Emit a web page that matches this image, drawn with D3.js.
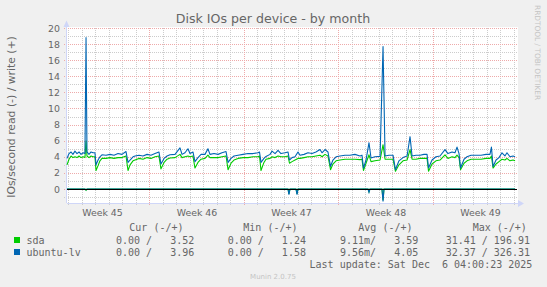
<!DOCTYPE html>
<html>
<head>
<meta charset="utf-8">
<script src="https://cdn.jsdelivr.net/npm/d3@7"></script>
<style>
  body { margin: 0; background: #f0f0f0; }
  svg { display: block; }
  text { fill: #666; }
</style>
</head>
<body>
<svg id="chart" width="547" height="287"></svg>
<script>
// values, time in days since the left edge
const days = [
  0, 0.15, 0.30, 0.44, 0.59, 0.74, 0.89, 1.04, 1.19, 1.33, 1.41, 1.48, 1.63, 1.78, 1.93, 2.07,
  2.15, 2.30, 2.44, 2.59, 2.89, 3.19, 3.48, 3.78, 4.07, 4.37,
  4.52, 4.67, 4.89, 5.04, 5.33, 5.63, 5.93, 6.22, 6.52, 6.81,
  6.96, 7.19, 7.41, 7.63, 8.00, 8.37, 8.52, 8.74, 8.96, 9.11, 9.33,
  9.48, 9.70, 9.93, 10.22, 10.44, 10.59, 10.89, 11.19, 11.48, 11.78,
  11.93, 12.15, 12.37, 12.67, 13.04, 13.41, 13.78, 14.15, 14.26,
  14.37, 14.59, 14.74, 15.04, 15.19, 15.41, 15.63, 15.85, 16.15, 16.37,
  16.48, 16.67, 16.89, 17.11, 17.26, 17.56, 17.85, 18.15, 18.44, 18.74, 18.89, 19.11, 19.33,
  19.52, 19.70, 19.93, 20.22, 20.59, 20.96, 21.33, 21.70, 21.85,
  21.96, 22.15, 22.37, 22.52, 22.81, 23.19, 23.41, 23.56, 23.85, 24.15,
  24.33, 24.59, 24.89, 25.19, 25.41, 25.56, 25.85, 26.15, 26.44, 26.67,
  26.78, 27.04, 27.33, 27.63, 28.00, 28.22, 28.52, 28.74, 28.89, 29.04,
  29.15, 29.41, 29.63, 29.93, 30.30, 30.67, 31.04, 31.33, 31.44,
  31.56, 31.78, 32.00, 32.22, 32.44, 32.59, 32.81, 33.04, 33.19
];
const sdaWrite = [
  3.0, 3.7, 4.1, 3.9, 4.0, 3.9, 4.1, 3.9, 4.0, 3.9, 6.0, 4.1, 3.9, 4.1, 4.0, 4.0,
  2.3, 2.9, 3.5, 3.8, 3.8, 3.9, 3.8, 3.9, 3.9, 4.1,
  2.3, 3.0, 3.5, 3.6, 3.8, 3.7, 3.9, 3.8, 4.0, 4.1,
  2.5, 3.3, 3.7, 3.85, 3.9, 4.3, 3.9, 4.0, 4.1, 4.0, 4.1,
  2.6, 3.3, 3.7, 3.8, 4.2, 3.9, 3.9, 3.9, 4.0, 4.1,
  2.4, 3.2, 3.6, 3.8, 3.9, 3.9, 4.0, 4.0, 4.1,
  2.3, 3.3, 3.7, 3.8, 4.0, 3.9, 4.1, 4.0, 4.0, 4.1,
  3.2, 3.4, 3.6, 3.8, 3.8, 3.9, 4.0, 4.0, 4.1, 4.2, 4.0, 4.3, 4.1,
  2.4, 3.1, 3.5, 3.6, 3.7, 3.7, 3.7, 3.65, 3.7,
  2.3, 3.2, 4.25, 3.4, 3.5, 3.6, 5.5, 3.7, 3.7, 3.7,
  2.2, 3.0, 3.5, 3.6, 4.9, 3.7, 3.7, 3.8, 3.8, 3.8,
  2.2, 3.1, 3.5, 3.6, 4.25, 3.8, 4.0, 3.9, 4.2, 3.9,
  2.4, 3.2, 3.5, 3.7, 3.7, 3.7, 3.8, 3.8, 4.1,
  2.6, 3.1, 3.4, 3.7, 3.6, 3.8, 3.5, 3.6, 3.5
];
const lvWrite = [
  3.8, 4.4, 4.6, 4.3, 4.7, 4.4, 4.6, 4.3, 4.5, 4.4, 18.8, 4.6, 4.3, 4.6, 4.5, 4.5,
  3.0, 3.6, 4.0, 4.25, 4.2, 4.3, 4.2, 4.4, 4.3, 4.65,
  3.3, 3.6, 4.0, 4.1, 4.2, 4.1, 4.3, 4.2, 4.4, 4.6,
  3.1, 3.8, 4.1, 4.25, 4.3, 5.1, 4.3, 4.5, 5.0, 4.4, 4.6,
  3.4, 3.9, 4.3, 4.3, 5.0, 4.3, 4.4, 4.3, 4.5, 4.65,
  3.3, 3.8, 4.1, 4.2, 4.3, 4.4, 4.4, 4.5, 4.6,
  3.3, 3.8, 4.05, 4.3, 4.7, 4.4, 4.8, 4.4, 4.5, 4.6,
  3.6, 3.9, 4.0, 4.6, 4.2, 4.3, 4.5, 4.4, 4.6, 4.9, 4.5, 4.9, 4.6,
  2.8, 3.6, 4.0, 4.1, 4.2, 4.2, 4.3, 4.1, 4.2,
  2.6, 3.6, 5.75, 3.85, 4.0, 4.05, 17.7, 4.1, 4.2, 4.2,
  2.4, 3.5, 3.9, 4.1, 6.5, 4.1, 4.2, 4.2, 4.3, 4.3,
  2.6, 3.6, 4.0, 4.1, 4.9, 4.4, 4.6, 4.5, 5.2, 4.4,
  2.6, 3.7, 4.0, 4.2, 4.2, 4.2, 4.3, 4.3, 5.2,
  2.8, 3.6, 3.9, 4.5, 4.1, 4.5, 4.0, 4.1, 4.0
];
// reads are drawn below zero
const readDays = [0, 1.33, 1.41, 1.48, 16.37, 16.44, 16.52, 16.96, 17.04, 17.11,
  22.30, 22.37, 22.44, 23.33, 23.41, 23.48, 33.19];
const sdaRead = [0, 0, -0.17, 0, 0, -0.6, 0, 0, -0.6, 0, 0, -0.35, 0, 0, -1.4, 0, 0];
const lvRead = [0, 0, -0.1, 0, 0, -0.7, 0, 0, -0.7, 0, 0, -0.4, 0, 0, -1.55, 0, 0];

const seriesNames = ['sda', 'ubuntu-lv'];
const seriesColors = ['#00cc00', '#0066b3'];
const yTicks = [0, 2, 4, 6, 8, 10, 12, 14, 16, 18, 20];
const weekLabels = ['Week 45', 'Week 46', 'Week 47', 'Week 48', 'Week 49'];
const legendHead = ['Cur (-/+)', 'Min (-/+)', 'Avg (-/+)', 'Max (-/+)'];
const legendValues = [
  ['0.00 /   3.52', '0.00 /   1.24', '9.11m/   3.59', '31.41 / 196.91'],
  ['0.00 /   3.96', '0.00 /   1.58', '9.56m/   4.05', '32.37 / 326.31']
];
const lastUpdate = 'Last update: Sat Dec  6 04:00:23 2025';

const svgWidth = 547;
const svgHeight = 287;
const margin = { top: 28, right: 30, bottom: 84, left: 67 };
const width = svgWidth - margin.left - margin.right;
const height = svgHeight - margin.top - margin.bottom;

const start = new Date(Date.UTC(2025, 10, 2, 21, 50));
const end = d3.utcHour.offset(start, 800);
const toDate = (d) => new Date(start.getTime() + d * 864e5);

const svg = d3.select('#chart');
svg.append('rect').attr('width', svgWidth).attr('height', svgHeight).attr('fill', '#f0f0f0');

const g = svg.append('g')
  .attr('transform', 'translate(' + margin.left + ',' + margin.top + ')');

const xScale = d3.scaleUtc().domain([start, end]).range([0, width]);
const yScale = d3.scaleLinear().domain([-1.74, 20]).range([height, 0]);
const px = (v) => Math.round(v) + 0.5;

g.append('rect')
  .attr('x', 0).attr('y', -1)
  .attr('width', width + 1).attr('height', height + 1)
  .attr('fill', '#fff');

/* grid: minor every day / every unit, major every week / every 2 */
const grid = g.append('g').attr('shape-rendering', 'crispEdges')
  .attr('stroke-dasharray', '1,1').attr('fill', 'none');

const minorY = d3.range(-1, 21).filter((v) => v % 2 !== 0);
grid.selectAll('.ymin').data(minorY).join('line')
  .attr('x1', -3).attr('x2', width)
  .attr('y1', (d) => px(yScale(d))).attr('y2', (d) => px(yScale(d)))
  .attr('stroke', '#cccccc');

const sundays = d3.utcSunday.range(start, end);
const dayLines = d3.utcDay.range(d3.utcDay.ceil(start), end)
  .filter((d) => d.getUTCDay() !== 0);
grid.selectAll('.xmin').data(dayLines).join('line')
  .attr('x1', (d) => px(xScale(d))).attr('x2', (d) => px(xScale(d)))
  .attr('y1', 0).attr('y2', height + 3)
  .attr('stroke', '#cccccc');

grid.selectAll('.ymaj').data(yTicks).join('line')
  .attr('x1', -3).attr('x2', width)
  .attr('y1', (d) => px(yScale(d))).attr('y2', (d) => px(yScale(d)))
  .attr('stroke', '#eeaaaa');

grid.selectAll('.xmaj').data(sundays).join('line')
  .attr('x1', (d) => px(xScale(d))).attr('x2', (d) => px(xScale(d)))
  .attr('y1', 0).attr('y2', height + 3)
  .attr('stroke', '#eeaaaa');

/* axes */
const axisColor = '#cfd6f8';
g.append('line').attr('shape-rendering', 'crispEdges')
  .attr('x1', 0).attr('x2', width + 2)
  .attr('y1', height + 0.5).attr('y2', height + 0.5)
  .attr('stroke', axisColor);
g.append('path')
  .attr('d', `M${width + 1},${height - 3}L${width + 7},${height + 0.5}L${width + 1},${height + 4}Z`)
  .attr('fill', axisColor);
g.append('line').attr('shape-rendering', 'crispEdges')
  .attr('x1', -0.5).attr('x2', -0.5)
  .attr('y1', height).attr('y2', -3)
  .attr('stroke', axisColor);
g.append('path')
  .attr('d', `M-3.5,-1L-0.5,-7.5L2.5,-1Z`)
  .attr('fill', axisColor);

const weekMid = d3.utcWednesday.range(start, end).map((d) => d3.utcHour.offset(d, 12));
const xAxis = d3.axisBottom(xScale)
  .tickValues(weekMid)
  .tickSize(0).tickPadding(6.3)
  .tickFormat((d, i) => weekLabels[i]);
const xg = g.append('g').attr('transform', 'translate(0,' + height + ')').call(xAxis);
xg.select('.domain').remove();
xg.selectAll('text').attr('font-family', 'DejaVu Sans').attr('font-size', 9.4).attr('fill', '#666');

const yAxis = d3.axisLeft(yScale).tickValues(yTicks).tickSize(0).tickPadding(7);
const yg = g.append('g').call(yAxis);
yg.select('.domain').remove();
yg.selectAll('text').attr('font-family', 'DejaVu Sans').attr('font-size', 9.4).attr('fill', '#666');

/* series */
const line = d3.line()
  .x((d) => xScale(toDate(d[0])))
  .y((d) => yScale(d[1]));

const writes = [sdaWrite, lvWrite];
const reads = [sdaRead, lvRead];
seriesNames.forEach((name, i) => {
  g.append('path')
    .datum(readDays.map((t, j) => [t, reads[i][j]]))
    .attr('fill', 'none').attr('stroke', seriesColors[i]).attr('stroke-width', 1.1)
    .attr('d', line);
  g.append('path')
    .datum(days.map((t, j) => [t, writes[i][j]]))
    .attr('fill', 'none').attr('stroke', seriesColors[i]).attr('stroke-width', 1.1)
    .attr('stroke-linejoin', 'round')
    .attr('d', line);
});

g.append('line').attr('shape-rendering', 'crispEdges')
  .attr('x1', 0).attr('x2', width)
  .attr('y1', px(yScale(0))).attr('y2', px(yScale(0)))
  .attr('stroke', '#000');

/* titles */
svg.append('text')
  .attr('x', 273).attr('y', 22.5)
  .attr('text-anchor', 'middle')
  .attr('font-family', 'DejaVu Sans').attr('font-size', 12.6)
  .text('Disk IOs per device - by month');

svg.append('text')
  .attr('transform', 'translate(14.5,117) rotate(-90)')
  .attr('text-anchor', 'middle')
  .attr('font-family', 'DejaVu Sans').attr('font-size', 10.8)
  .text('IOs/second read (-) / write (+)');

svg.append('text')
  .attr('transform', 'translate(535,5) rotate(90)')
  .attr('font-family', 'DejaVu Sans').attr('font-size', 7.4)
  .style('fill', '#c4c4c4')
  .text('RRDTOOL / TOBI OETIKER');

/* legend */
const mono = 'DejaVu Sans Mono';
const headX = [129.3, 243.3, 358.3, 472.7];
const valX = [116, 227.7, 340, 445.7];
const leg = svg.append('g').attr('font-family', mono).attr('font-size', 10);

leg.selectAll('.head').data(legendHead).join('text')
  .attr('xml:space', 'preserve')
  .attr('x', (d, i) => headX[i]).attr('y', 231)
  .text((d) => d);

seriesNames.forEach((name, i) => {
  const yb = 243.5 + i * 12;
  leg.append('rect')
    .attr('x', 14).attr('y', yb - 6.5).attr('width', 6).attr('height', 6)
    .attr('fill', seriesColors[i]);
  leg.append('text').attr('x', 26.5).attr('y', yb).text(name);
  leg.selectAll('.v' + i).data(legendValues[i]).join('text')
    .attr('xml:space', 'preserve')
    .attr('x', (d, k) => valX[k]).attr('y', yb)
    .text((d) => d);
});

leg.append('text')
  .attr('xml:space', 'preserve')
  .attr('x', 532.3).attr('y', 267.5)
  .attr('text-anchor', 'end')
  .text(lastUpdate);

svg.append('text')
  .attr('x', 273).attr('y', 279)
  .attr('text-anchor', 'middle')
  .attr('font-family', 'DejaVu Sans').attr('font-size', 7)
  .style('fill', '#c4c4c4')
  .text('Munin 2.0.75');
</script>
</body>
</html>
